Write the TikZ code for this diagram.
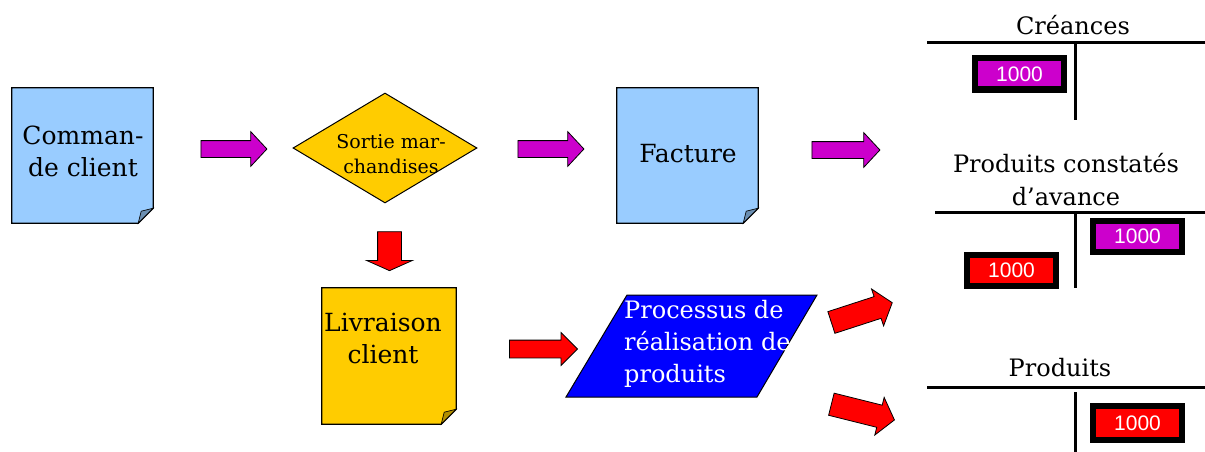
\documentclass[tikz,border=0pt]{standalone}
\usepackage{fontspec}
\setmainfont{DejaVu Serif}
\setsansfont{Liberation Sans}
\usetikzlibrary{shapes.geometric,shapes.arrows}
\definecolor{lblue}{HTML}{99CCFF}
\definecolor{gold}{HTML}{FFCC00}
\definecolor{mag}{HTML}{CC00CC}
\definecolor{pblue}{HTML}{0000FF}
\definecolor{pred}{HTML}{FF0000}
\newcommand\notefold[2]{%
  \filldraw[fill=#2, draw=black, line width=1.2pt]
    (#1.north west) -- (#1.north east) -- ([yshift=15pt]#1.south east)
    -- ([xshift=-15pt]#1.south east) -- (#1.south west) -- cycle;
  \filldraw[fill=#2!70!black, draw=black, line width=0.7pt]
    ([yshift=15pt]#1.south east) -- ([xshift=-15pt]#1.south east)
    -- ([xshift=-12pt,yshift=12pt]#1.south east) -- cycle;
}
\tikzset{
  notebox/.style={rectangle, inner sep=0pt},
  notetext/.style={font=\fontsize{25}{32}\selectfont, align=center, inner sep=0pt},
  title/.style={font=\fontsize{24}{33}\selectfont, align=center, inner sep=0pt},
  amt/.style={draw=black, line width=6pt, inner sep=0pt, minimum width=89pt,
    minimum height=31pt, text=white, font=\sffamily\fontsize{21}{21}\selectfont},
  tline/.style={line width=3pt},
  barrow/.style n args={5}{single arrow, draw=black, line width=0.8pt,
    inner xsep=0pt, inner ysep=#1, text height=0pt, text depth=0pt,
    minimum width=0pt, minimum height=#2, single arrow head extend=#3,
    single arrow tip angle=#4, fill=#5},
}
\begin{document}
\begin{tikzpicture}[x=1pt,y=-1pt]
\useasboundingbox (0,0) rectangle (1205,452);

% notes
\node[notebox, minimum width=141pt, minimum height=135pt] (cmd) at (82.5,155.5) {};
\notefold{cmd}{lblue}
\node[notetext] (cmdt) at (83,151) {Comman-\\de client};

\node[notebox, minimum width=141pt, minimum height=135pt] (fac) at (687.5,155.5) {};
\notefold{fac}{lblue}
\node[notetext] (fact) at (688,154) {Facture};

\node[notebox, minimum width=134pt, minimum height=136pt] (liv) at (389,356) {};
\notefold{liv}{gold}
\node[notetext] (livt) at (383,338) {Livraison\\client};

% diamond
\node[diamond, draw=black, fill=gold, line width=1pt, inner sep=0pt,
  minimum width=184pt, minimum height=110pt] (sortie) at (385,148) {};
\node[font=\fontsize{19}{25}\selectfont, align=center, inner sep=0pt] (sortiet) at (391,154) {Sortie mar-\\chandises};

% parallelogram
\filldraw[fill=pblue, draw=black, line width=1pt] (627,295) -- (817,295) -- (757,397) -- (566,397) -- cycle;
\node[font=\fontsize{24}{32}\selectfont, align=left, text=white, inner sep=0pt, anchor=west] (proc) at (624,344) {Processus de\\réalisation de\\produits};

% block arrows
\node[barrow={8pt}{66pt}{9pt}{94}{mag}] (a1) at (230,149) {};
\node[barrow={8pt}{66pt}{9pt}{94}{mag}] (a2) at (547,149) {};
\node[barrow={8pt}{68pt}{9pt}{94}{mag}] (a3) at (842,150) {};
\node[barrow={11.5pt}{39pt}{11pt}{132}{pred}, rotate=-90] (a4) at (389.5,248.5) {};
\node[barrow={8.5pt}{68pt}{7.5pt}{90}{pred}] (a5) at (539,349) {};
\node[barrow={11pt}{64pt}{8pt}{103}{pred}, rotate=18] (a6) at (857.5,314) {};
\node[barrow={11pt}{65pt}{8pt}{103}{pred}, rotate=-14] (a7) at (858.5,411) {};

% T accounts
\node[title] (cre) at (1073,25) {Créances};
\draw[tline] (927,43) -- (1205,43);
\draw[tline] (1075,43) -- (1075,120);
\node[amt, fill=mag] (cre1) at (1019.5,74) {\raisebox{-2pt}{1000}};

\node[title] (pca) at (1066,180) {Produits constatés\\d’avance};
\draw[tline] (935,212) -- (1205,212);
\draw[tline] (1075,212) -- (1075,288);
\node[amt, fill=mag] (pca1) at (1137.5,236.5) {\raisebox{-2pt}{1000}};
\node[amt, fill=pred] (pca2) at (1011.5,270.5) {\raisebox{-2pt}{1000}};

\node[title] (pro) at (1060,368) {Produits};
\draw[tline] (927,387) -- (1205,387);
\draw[tline] (1075,392) -- (1075,452);
\node[amt, fill=pred, minimum height=34pt] (pro1) at (1137.5,423) {\raisebox{-2pt}{1000}};
\end{tikzpicture}
\end{document}
